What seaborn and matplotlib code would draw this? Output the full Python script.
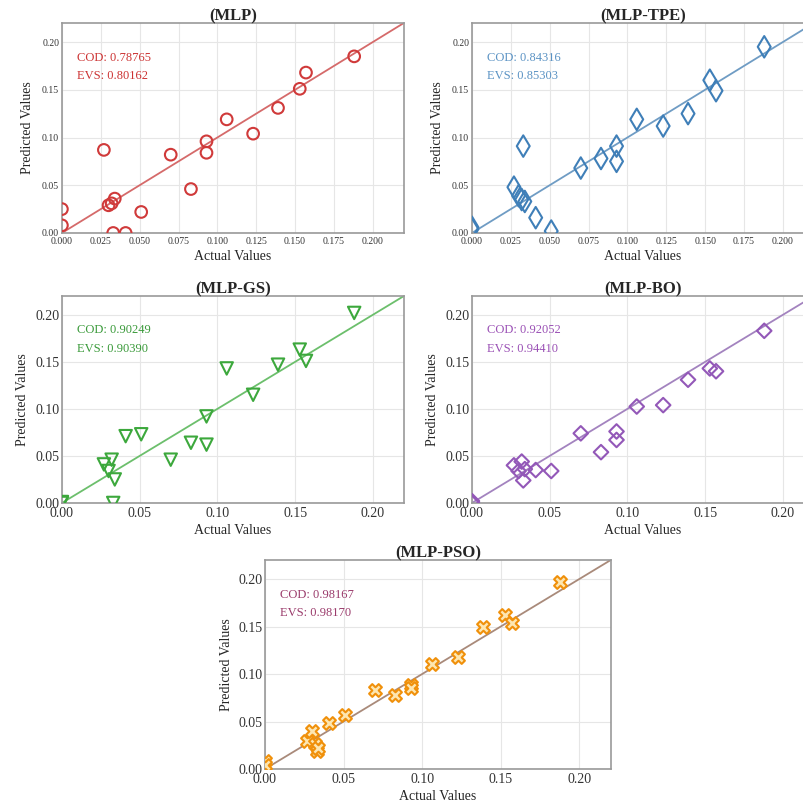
import numpy as np
import pandas as pd
import seaborn as sns
import matplotlib.pyplot as plt

# %%
### Test-set actual values (shared by all models)
actual = [0.000, 0.000, 0.027, 0.030, 0.032, 0.033, 0.034, 0.041, 0.051, 0.070,
          0.083, 0.093, 0.093, 0.106, 0.123, 0.139, 0.153, 0.157, 0.188]

### Predictions per model
pred_mlp = [0.025, 0.008, 0.087, 0.029, 0.031, 0.000, 0.036, 0.000, 0.022, 0.082,
            0.046, 0.096, 0.084, 0.119, 0.104, 0.131, 0.151, 0.168, 0.185]
pred_tpe = [0.006, 0.004, 0.048, 0.039, 0.035, 0.091, 0.033, 0.016, 0.002, 0.068,
            0.078, 0.091, 0.075, 0.119, 0.112, 0.125, 0.160, 0.149, 0.195]
pred_gs = [0.000, 0.001, 0.041, 0.034, 0.046, 0.000, 0.025, 0.071, 0.073, 0.046,
           0.064, 0.092, 0.062, 0.143, 0.115, 0.147, 0.163, 0.151, 0.202]
pred_bo = [0.002, 0.000, 0.040, 0.034, 0.044, 0.024, 0.036, 0.035, 0.034, 0.074,
           0.054, 0.076, 0.067, 0.1025, 0.104, 0.131, 0.143, 0.140, 0.183]
pred_pso = [0.008, 0.004, 0.030, 0.040, 0.026, 0.019, 0.022, 0.048, 0.057, 0.083,
            0.078, 0.088, 0.085, 0.111, 0.118, 0.150, 0.162, 0.154, 0.197]

titles = ["(MLP)", "(MLP-TPE)", "(MLP-GS)", "(MLP-BO)", "(MLP-PSO)"]
cod = ["0.78765", "0.84316", "0.90249", "0.92052", "0.98167"]
evs = ["0.80162", "0.85303", "0.90390", "0.94410", "0.98170"]

# %%
sns.set_theme(style="whitegrid")
plt.rcParams["font.family"] = ["Liberation Serif", "DejaVu Serif"]

fig = plt.figure(figsize=(8.04, 8.05), dpi=100)

### axes boxes in figure fractions
boxes = [
    [0.077, 0.7106, 0.4254, 0.2609],
    [0.587, 0.7106, 0.4254, 0.2609],
    [0.077, 0.3752, 0.4254, 0.2571],
    [0.587, 0.3752, 0.4254, 0.2571],
    [0.3296, 0.0447, 0.430, 0.2596],
]

preds = [pred_mlp, pred_tpe, pred_gs, pred_bo, pred_pso]
markers = ["o", "d", "v", "D", "X"]
sizes = [70, 120, 80, 55, 85]
edge = ["#d03a3a", "#3f7fb8", "#3ca83c", "#9358b8", "#f0900a"]
face = ["none", "none", "none", "none", "#fde6b0"]
line_c = ["#d56a6a", "#6f9cc4", "#6cbf6c", "#a383bf", "#a98a7a"]
text_c = ["#cc3333", "#5b93c4", "#3a9a3a", "#9a50b5", "#9a3b6b"]

lims = [0, 0.22]

for i in range(5):
    ax = fig.add_axes(boxes[i])
    df = pd.DataFrame({"Actual Values": actual, "Predicted Values": preds[i]})
    small = i < 2

    ax.plot(lims, lims, color=line_c[i], lw=1.3, zorder=1)
    sns.scatterplot(data=df, x="Actual Values", y="Predicted Values", ax=ax,
                    marker=markers[i], s=sizes[i], facecolor=face[i],
                    edgecolor=edge[i], linewidth=1.5, zorder=3)

    ax.set_xlim(lims)
    ax.set_ylim(lims)
    if small:
        ax.set_xticks(np.arange(0, 0.201, 0.025))
        ax.set_xticklabels([f"{t:.3f}" for t in np.arange(0, 0.201, 0.025)])
        tfs = 7
        ylp = 6
    else:
        ax.set_xticks(np.arange(0, 0.201, 0.05))
        ax.set_xticklabels([f"{t:.2f}" for t in np.arange(0, 0.201, 0.05)])
        tfs = 10
        ylp = 4
    ax.set_yticks(np.arange(0, 0.201, 0.05))
    ax.set_yticklabels([f"{t:.2f}" for t in np.arange(0, 0.201, 0.05)])
    ax.tick_params(labelsize=tfs, pad=2, colors="#333333", length=0)
    ax.tick_params(axis="x", pad=3)

    ax.set_xlabel("Actual Values", fontsize=10, labelpad=3)
    ax.set_ylabel("Predicted Values", fontsize=10, labelpad=ylp)
    ax.set_title(titles[i], fontsize=12, fontweight="bold", pad=2)

    ax.grid(True, color="#e6e6e6", lw=0.8)
    for sp in ax.spines.values():
        sp.set_color("#999999")
        sp.set_linewidth(1.2)

    ax.text(0.044, 0.835, "COD: " + cod[i], transform=ax.transAxes,
            fontsize=9, color=text_c[i], va="center")
    ax.text(0.044, 0.745, "EVS: " + evs[i], transform=ax.transAxes,
            fontsize=9, color=text_c[i], va="center")

fig.savefig("out.png", dpi=100)
